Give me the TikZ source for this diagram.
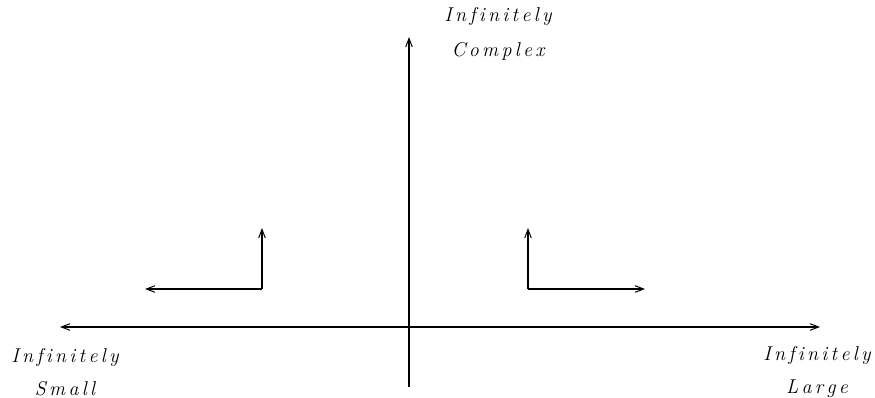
\documentclass[tikz,border=0pt]{standalone}
\usepackage{fontspec}
\usetikzlibrary{arrows.meta}
\newcommand{\g}{\kern3.3pt}
\tikzset{
  tip/.tip={Straight Barb[length=8.5pt,width=6.5pt,line width=1pt]},
  axis/.style={line width=1.1pt, -tip},
  lbl/.style={align=center, inner sep=0pt, font=\fontsize{20}{33}\selectfont\itshape\addfontfeatures{FakeBold=0.6}}
}
\begin{document}
\begin{tikzpicture}[x=1pt,y=-1pt]
\useasboundingbox (0,0) rectangle (875,398);
% axes
\coordinate (O) at (409,327);
\coordinate (bot) at (409,387);
\coordinate (top) at (409,37);
\coordinate (left) at (60,327);
\coordinate (right) at (820,327);
\draw[axis] (bot) -- (top);
\draw[axis, tip-tip] (left) -- (right);
% small corner arrows
\coordinate (lc) at (262,289);
\coordinate (lu) at (262,228);
\coordinate (ll) at (145,289);
\coordinate (rc) at (528,289);
\coordinate (ru) at (528,228);
\coordinate (rr) at (645,289);
\draw[axis] (lc) -- (lu);
\draw[axis] (lc) -- (ll);
\draw[axis] (rc) -- (ru);
\draw[axis] (rc) -- (rr);
% labels
\node[lbl] (tl) at (498,34) {I\g n\g f\g i\g n\g i\g t\g e\g l\g y\\[2pt]C\g o\g m\g p\g l\g e\g x};
\node[lbl] (ll1) at (65,372) {I\g n\g f\g i\g n\g i\g t\g e\g l\g y\\[0pt]S\g m\g a\g l\g l};
\node[lbl] (rl1) at (817,372) {I\g n\g f\g i\g n\g i\g t\g e\g l\g y\\[0pt]L\g a\g r\g g\g e};
\end{tikzpicture}
\end{document}
